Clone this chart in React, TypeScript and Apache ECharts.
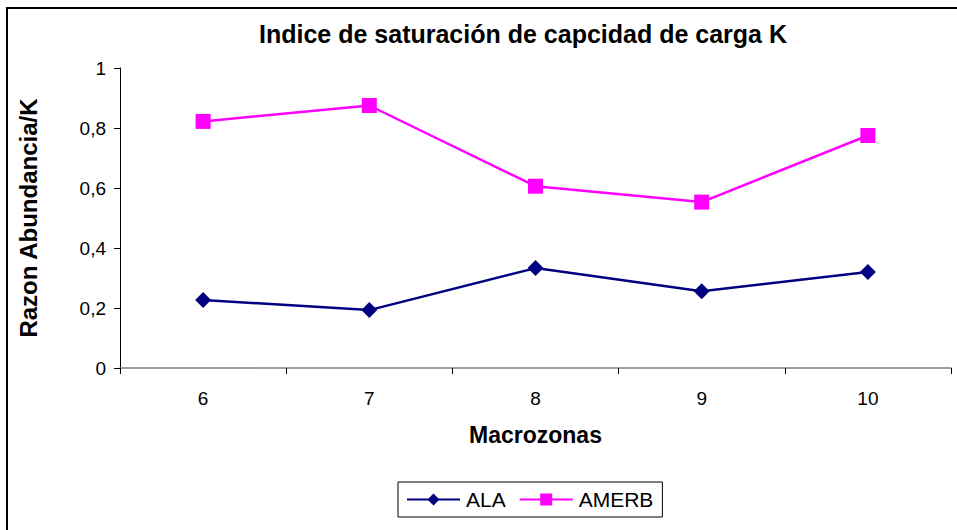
import React, { useEffect, useRef } from "react";
import * as echarts from "echarts";

const categories = ["6", "7", "8", "9", "10"];
const alaValues = [0.227, 0.193, 0.333, 0.256, 0.32];
const amerbValues = [0.822, 0.875, 0.606, 0.553, 0.775];
const yTicks = { min: 0, max: 1, interval: 0.2 };

const FONT = "'Liberation Sans', Arial, sans-serif";

export default function App() {
  const ref = useRef<HTMLDivElement>(null);
  useEffect(() => {
    if (!ref.current) return;
    const chart = echarts.init(ref.current, null, { renderer: "svg" });
    chart.setOption({
      animation: false,
      backgroundColor: "#ffffff",
      textStyle: { fontFamily: FONT },
      title: {
        text: "Indice de saturación de capcidad de carga K",
        left: 518,
        textAlign: "center",
        top: 16,
        textStyle: { fontFamily: FONT, fontSize: 25, fontWeight: "bold", color: "#000" },
      },
      graphic: [
        {
          type: "rect",
          shape: { x: 7, y: 8, width: 980, height: 560 },
          style: { fill: "none", stroke: "#000", lineWidth: 2 },
          silent: true,
          z: -10,
        },
      ],
      grid: { left: 120, right: 6, top: 68, bottom: 162, containLabel: false },
      legend: {
        left: 398,
        top: 482,
        padding: [7, 9, 7, 8],
        itemGap: 13,
        itemWidth: 53,
        itemHeight: 15,
        borderColor: "#000",
        borderWidth: 1,
        textStyle: { fontFamily: FONT, fontSize: 21, color: "#000", padding: [0, 0, 0, 1] },
        data: ["ALA", "AMERB"],
      },
      xAxis: {
        type: "category",
        data: categories,
        boundaryGap: true,
        name: "Macrozonas",
        nameLocation: "middle",
        nameGap: 55,
        nameTextStyle: { fontFamily: FONT, fontSize: 23, fontWeight: "bold", color: "#000" },
        axisLine: { lineStyle: { color: "#808080", width: 1.5 } },
        axisTick: { show: true, length: 6, lineStyle: { color: "#000" } },
        axisLabel: { fontFamily: FONT, fontSize: 19, color: "#000", margin: 21 },
        splitLine: { show: false },
      },
      yAxis: {
        type: "value",
        min: yTicks.min,
        max: yTicks.max,
        interval: yTicks.interval,
        name: "Razon Abundancia/K",
        nameLocation: "middle",
        nameGap: 80,
        nameTextStyle: { fontFamily: FONT, fontSize: 24, fontWeight: "bold", color: "#000" },
        axisLine: { show: true, lineStyle: { color: "#000", width: 1 } },
        axisTick: { show: true, length: 6, lineStyle: { color: "#000" } },
        axisLabel: {
          fontFamily: FONT,
          fontSize: 19,
          color: "#000",
          margin: 14,
          formatter: (v: number) => String(Number(v.toFixed(1))).replace(".", ","),
        },
        splitLine: { show: false },
      },
      series: [
        {
          name: "ALA",
          type: "line",
          data: alaValues,
          symbol: "diamond",
          symbolSize: 16,
          lineStyle: { color: "#000080", width: 2.5 },
          itemStyle: { color: "#000080" },
        },
        {
          name: "AMERB",
          type: "line",
          data: amerbValues,
          symbol: "rect",
          symbolSize: 15,
          lineStyle: { color: "#FF00FF", width: 2.5 },
          itemStyle: { color: "#FF00FF" },
        },
      ],
    });
    return () => chart.dispose();
  }, []);
  return (
    <div
      ref={ref}
      style={{ position: "absolute", left: 0, top: 0, width: 957, height: 530 }}
    />
  );
}
